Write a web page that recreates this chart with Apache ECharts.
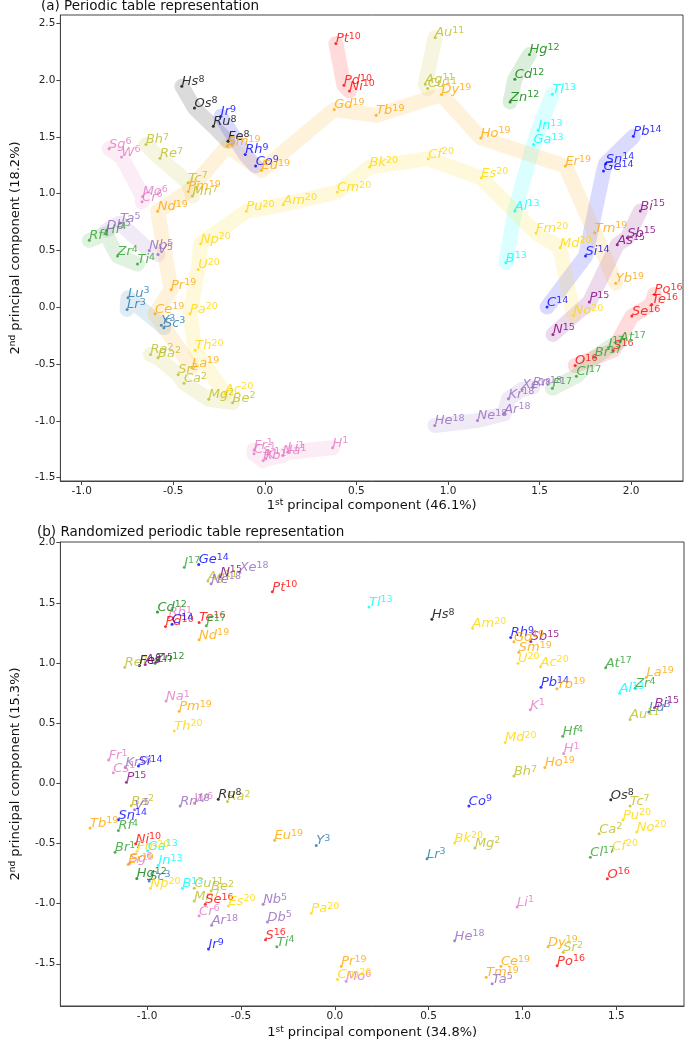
<!DOCTYPE html>
<html><head><meta charset="utf-8">
<script src="https://cdn.jsdelivr.net/npm/echarts@6/dist/echarts.min.js"></script>
<style>html,body{margin:0;padding:0;background:#fff}#c{width:685px;height:1042px}</style>
</head><body><div id="c"></div>
<script>
// Element symbols in atomic-number order (1..108)
const symbols = ['H','He','Li','Be','B','C','N','O','F','Ne','Na','Mg','Al','Si','P','S','Cl','Ar','K','Ca',
 'Sc','Ti','V','Cr','Mn','Fe','Co','Ni','Cu','Zn','Ga','Ge','As','Se','Br','Kr','Rb','Sr','Y','Zr',
 'Nb','Mo','Tc','Ru','Rh','Pd','Ag','Cd','In','Sn','Sb','Te','I','Xe','Cs','Ba','La','Ce','Pr','Nd',
 'Pm','Sm','Eu','Gd','Tb','Dy','Ho','Er','Tm','Yb','Lu','Hf','Ta','W','Re','Os','Ir','Pt','Au','Hg',
 'Tl','Pb','Bi','Po','At','Rn','Fr','Ra','Ac','Th','Pa','U','Np','Pu','Am','Cm','Bk','Cf','Es','Fm',
 'Md','No','Lr','Rf','Db','Sg','Bh','Hs'];
// Group labels (19 = lanthanides, 20 = actinides)
const groups = [1,18,1,2,13,14,15,16,17,18,1,2,13,14,15,16,17,18,1,2,
 3,4,5,6,7,8,9,10,11,12,13,14,15,16,17,18,1,2,3,4,
 5,6,7,8,9,10,11,12,13,14,15,16,17,18,1,2,19,19,19,19,
 19,19,19,19,19,19,19,19,19,19,3,4,5,6,7,8,9,10,11,12,
 13,14,15,16,17,18,1,2,20,20,20,20,20,20,20,20,20,20,20,20,
 20,20,3,4,5,6,7,8];
// (a) periodic table representation
const pcaX = [0.370,0.928,0.124,-0.176,1.316,1.541,1.573,1.694,1.570,1.161,0.098,-0.306,1.365,1.751,1.772,1.902,1.701,1.307,0.005,-0.441,
 -0.551,-0.695,-0.583,-0.670,-0.395,-0.201,-0.050,0.462,0.889,1.339,1.467,1.849,1.924,2.004,1.801,1.330,-0.009,-0.473,-0.565,-0.804,
 -0.631,-0.667,-0.418,-0.281,-0.107,0.432,0.876,1.365,1.493,1.861,1.979,2.112,1.876,1.404,-0.059,-0.583,-0.398,-0.599,-0.512,-0.585,
 -0.418,-0.204,-0.018,0.379,0.608,0.965,1.179,1.641,1.801,1.916,-0.747,-0.868,-0.791,-0.782,-0.572,-0.384,-0.240,0.388,0.930,1.445,
 1.570,2.012,2.050,2.128,1.938,1.463,-0.059,-0.624,-0.217,-0.380,-0.409,-0.364,-0.350,-0.101,0.101,0.396,0.572,0.892,1.182,1.481,
 1.612,1.685,-0.752,-0.958,-0.864,-0.850,-0.649,-0.453];
const pcaY = [-1.238,-1.041,-1.277,-0.840,0.392,0.001,-0.240,-0.513,-0.713,-0.998,-1.306,-0.810,0.847,0.450,0.045,-0.380,-0.607,-0.938,-1.335,-0.669,
 -0.181,0.380,0.465,0.929,0.979,1.461,1.243,1.904,1.925,1.807,1.432,1.199,0.551,-0.078,-0.440,-0.806,-1.350,-0.592,-0.158,0.450,
 0.500,0.976,1.097,1.593,1.344,1.954,1.963,2.007,1.558,1.264,0.612,0.025,-0.357,-0.724,-1.291,-0.445,-0.533,-0.057,0.154,0.844,
 1.020,1.419,1.205,1.740,1.690,1.872,1.490,1.243,0.656,0.212,0.084,0.648,0.741,1.323,1.311,1.754,1.681,2.322,2.374,2.225,
 1.875,1.505,0.847,0.113,-0.307,-0.704,-1.256,-0.416,-0.762,-0.378,-0.057,0.333,0.560,0.844,0.903,1.014,1.234,1.308,1.137,0.653,
 0.524,-0.072,-0.019,0.589,0.677,1.396,1.432,1.945];
// (b) randomized periodic table representation
const randX = [1.219,0.638,0.971,-0.659,-0.812,-0.867,-0.611,1.452,-0.685,-0.659,-0.899,0.746,1.517,-1.046,-1.110,-0.369,1.361,-0.656,1.041,1.408,
 -0.989,-0.309,-1.067,-0.723,-0.749,-1.041,0.714,-1.061,-0.749,-0.957,-0.997,-0.725,-1.010,-0.690,-1.171,-1.115,-0.885,1.217,-0.099,1.600,
 -0.382,0.060,1.573,-0.621,0.937,-0.902,-0.676,-0.945,-0.940,-1.153,1.044,-0.723,-0.802,-0.507,-1.180,-1.085,1.660,0.885,0.034,-0.723,
 -0.829,0.980,-0.321,0.954,-1.304,1.136,1.119,-1.101,0.806,1.183,1.673,1.214,0.838,-0.749,-1.119,1.470,-0.673,-0.333,1.573,-1.055,
 0.182,1.098,1.703,1.184,1.443,-0.824,-1.205,-0.572,1.096,-0.855,-0.125,0.976,-0.982,1.535,0.734,0.014,0.638,1.478,-0.567,-1.053,
 0.907,1.608,0.491,-1.153,-0.359,-1.093,0.954,0.517];
const randY = [0.248,-1.309,-1.028,-0.896,-0.873,1.322,1.716,-0.793,1.308,1.658,0.683,-0.537,0.749,0.143,0.008,-1.301,-0.615,-1.179,0.611,-0.419,
 -0.813,-1.359,-0.221,-1.102,-0.978,0.978,-0.188,-0.502,-0.873,0.997,-0.560,1.818,0.986,-1.006,-0.573,0.132,1.377,-1.405,-0.518,0.790,
 -1.006,-1.645,-0.188,-0.132,1.212,1.303,1.680,1.424,-0.682,-0.303,1.179,1.336,1.796,1.754,0.088,-0.186,0.881,-1.521,-1.521,1.193,
 0.598,1.088,-0.474,1.176,-0.372,-1.359,0.132,-0.675,-1.612,0.785,0.592,0.391,-1.667,-0.165,0.964,-0.138,-1.378,1.592,0.529,-0.791,
 1.465,0.798,0.628,-1.516,0.959,-0.188,0.193,-0.152,0.969,0.435,-1.080,0.997,-0.873,-0.303,1.289,-1.631,-0.496,-0.560,-1.020,-0.565,
 0.339,-0.405,-0.628,-0.392,-1.152,-0.667,0.060,1.364];
// Tick labels
const topXTicks = [-1.0,-0.5,0.0,0.5,1.0,1.5,2.0];
const topYTicks = [-1.5,-1.0,-0.5,0.0,0.5,1.0,1.5,2.0,2.5];
const botXTicks = [-1.0,-0.5,0.0,0.5,1.0,1.5];
const botYTicks = [-1.5,-1.0,-0.5,0.0,0.5,1.0,1.5,2.0];

const groupColor = {1:'#e377c2',2:'#bcbd22',3:'#1f77b4',4:'#2ca02c',5:'#9467bd',6:'#e377c2',7:'#bcbd22',8:'#000000',
 9:'#0000ff',10:'#ff0000',11:'#bcbd22',12:'#008000',13:'#00ffff',14:'#0000ff',15:'#800080',16:'#ff0000',17:'#2ca02c',
 18:'#9467bd',19:'#ffa500',20:'#ffd700'};

const FONT = 'DejaVu Sans';
function makeAxis(min, max, ticks, name, gap) {
  return {
    type:'value', min:min, max:max,
    name:name, nameLocation:'middle', nameGap:gap,
    nameTextStyle:{fontFamily:FONT, fontSize:13, color:'#111', lineHeight:16,
      rich:{sup:{fontFamily:FONT, fontSize:9, lineHeight:10, verticalAlign:'top', color:'#111'}}},
    axisLine:{show:true, onZero:false, lineStyle:{color:'#444', width:1}},
    axisTick:{show:true, length:4, customValues:ticks, lineStyle:{color:'#444'}},
    axisLabel:{show:true, fontFamily:FONT, fontSize:10.5, color:'#222', margin:5, customValues:ticks,
      formatter:function(v){return v.toFixed(1);}},
    splitLine:{show:false}
  };
}

const series = [];
const panels = [[pcaX,pcaY],[randX,randY]];
// translucent group bands (panel a only)
for (let g=1; g<=20; g++) {
  const idx = symbols.map((s,i)=>i).filter(i=>groups[i]===g);
  series.push({type:'line', xAxisIndex:0, yAxisIndex:0, silent:true, z:1,
    symbol:'none', showSymbol:false,
    data: idx.map(i=>[pcaX[i], pcaY[i]]),
    lineStyle:{color:groupColor[g], width:15, opacity:0.14, cap:'round', join:'round'}});
}
for (let p=0; p<2; p++) {
  const X = panels[p][0], Y = panels[p][1];
  for (let g=1; g<=20; g++) {
    const idx = symbols.map((s,i)=>i).filter(i=>groups[i]===g);
    const col = groupColor[g];
    series.push({type:'scatter', xAxisIndex:p, yAxisIndex:p, z:3, symbolSize:3,
      itemStyle:{color:col},
      data: idx.map(i=>[X[i], Y[i], i]),
      label:{show:true, position:['50%','50%'], align:'left', verticalAlign:'bottom', offset:[0,3],
        formatter:function(prm){return '{s|'+symbols[prm.value[2]]+'}{g|'+groups[prm.value[2]]+'}';},
        rich:{
          s:{fontFamily:FONT, fontStyle:'italic', fontSize:13, lineHeight:15, color:col},
          g:{fontFamily:FONT, fontSize:9.5, lineHeight:9, verticalAlign:'top', color:col}
        }},
      emphasis:{disabled:true}
    });
  }
}

const chart = echarts.init(document.getElementById('c'), null, {renderer:'canvas'});
chart.setOption({
  animation:false,
  backgroundColor:'#fff',
  title:[
    {text:'(a) Periodic table representation', left:41, top:-1, padding:0,
     textStyle:{fontFamily:FONT, fontSize:13.5, fontWeight:'normal', color:'#111'}},
    {text:'(b) Randomized periodic table representation', left:37, top:525, padding:0,
     textStyle:{fontFamily:FONT, fontSize:13.5, fontWeight:'normal', color:'#111'}}
  ],
  grid:[
    {left:46, top:15, width:637, height:466, show:true, borderColor:'#444', borderWidth:1},
    {left:46, top:542, width:638, height:465, show:true, borderColor:'#444', borderWidth:1}
  ],
  xAxis:[
    Object.assign(makeAxis(-1.116, 2.283, topXTicks, '1{sup|st} principal component (46.1%)', 17), {gridIndex:0}),
    Object.assign(makeAxis(-1.462, 1.860, botXTicks, '1{sup|st} principal component (34.8%)', 19), {gridIndex:1})
  ],
  yAxis:[
    Object.assign(makeAxis(-1.530, 2.573, topYTicks, '2{sup|nd} principal component (18.2%)', 30), {gridIndex:0}),
    Object.assign(makeAxis(-1.851, 2.005, botYTicks, '2{sup|nd} principal component (15.3%)', 30), {gridIndex:1})
  ],
  series:series
});
</script>
</body></html>
